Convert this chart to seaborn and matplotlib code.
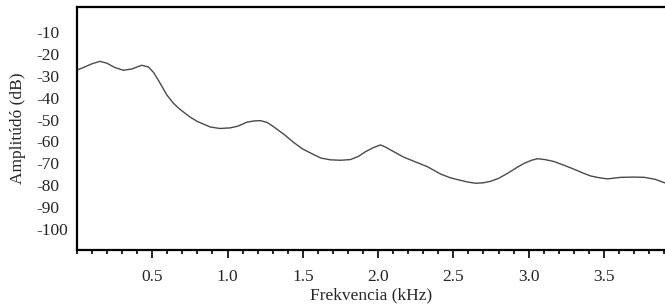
import numpy as np
import pandas as pd
import matplotlib
matplotlib.use('Agg')
import matplotlib.pyplot as plt
import seaborn as sn
from matplotlib.ticker import FixedLocator, MultipleLocator

# spectrum envelope
freq_khz = [0.0, 0.05, 0.10, 0.153, 0.20, 0.25, 0.308, 0.364, 0.43, 0.475, 0.51,
            0.552, 0.597, 0.641, 0.685, 0.752, 0.80, 0.885, 0.95, 1.018, 1.07,
            1.129, 1.18, 1.218, 1.262, 1.30, 1.37, 1.44, 1.50, 1.572, 1.62,
            1.683, 1.75, 1.816, 1.87, 1.916, 1.97, 2.016, 2.05, 2.083, 2.171,
            2.25, 2.327, 2.415, 2.48, 2.548, 2.60, 2.648, 2.70, 2.748, 2.80,
            2.859, 2.92, 2.97, 3.02, 3.059, 3.11, 3.169, 3.24, 3.302, 3.36,
            3.413, 3.47, 3.524, 3.613, 3.70, 3.768, 3.84, 3.912]
amp_db = [-27.4, -26.0, -24.5, -23.4, -24.3, -26.2, -27.5, -26.9, -25.2, -26.0, -28.6,
          -33.4, -38.8, -42.6, -45.4, -48.9, -50.9, -53.4, -54.1, -53.8, -53.0,
          -51.2, -50.6, -50.5, -51.3, -53.0, -56.5, -60.5, -63.5, -66.0, -67.6,
          -68.4, -68.6, -68.3, -66.8, -64.7, -62.8, -61.6, -62.6, -63.9, -67.2,
          -69.4, -71.5, -74.9, -76.6, -77.8, -78.6, -79.1, -78.9, -78.2, -76.9,
          -74.6, -72.0, -70.0, -68.6, -67.9, -68.3, -69.2, -71.0, -72.7, -74.4,
          -75.8, -76.6, -77.1, -76.4, -76.3, -76.4, -77.3, -79.1]

y_ticks = [-10, -20, -30, -40, -50, -60, -70, -80, -90, -100]
x_ticks = [0.5, 1.0, 1.5, 2.0, 2.5, 3.0, 3.5]

if __name__ == '__main__':
    data = pd.DataFrame({'f': freq_khz, 'a': amp_db})

    sn.set_style('white')
    plt.rcParams['font.family'] = ['Liberation Serif', 'DejaVu Serif']

    fig = plt.figure(figsize=(6.65, 3.06), dpi=100)
    ax = fig.add_axes([0.1158, 0.183, 0.8842, 0.794])
    sn.lineplot(data=data, x='f', y='a', ax=ax, color='#4a4a4a', linewidth=1.0)

    ax.set_xlim(0, 3.906)
    ax.set_ylim(-109.6, 1.4)
    ax.xaxis.set_major_locator(FixedLocator(x_ticks))
    ax.xaxis.set_minor_locator(MultipleLocator(0.1))
    ax.set_xticklabels([f'{t:.1f}' for t in x_ticks])
    ax.set_yticks(y_ticks)
    ax.set_yticklabels([str(t) for t in y_ticks], ha='left')

    for side in ['left', 'top', 'bottom']:
        ax.spines[side].set_visible(True)
        ax.spines[side].set_color('black')
        ax.spines[side].set_linewidth(1.6)
    ax.spines['right'].set_visible(False)

    ax.tick_params(axis='x', which='major', direction='out', length=6, width=1.2,
                   color='black', labelsize=12.5, pad=8, bottom=True)
    ax.tick_params(axis='x', which='minor', direction='out', length=3.2, width=1.2,
                   color='black', bottom=True)
    # left-aligned tick labels, as in the reference
    ax.tick_params(axis='y', which='both', length=0, labelsize=12.5, pad=29)

    ax.set_xlabel('Frekvencia (kHz)', fontsize=12.5, labelpad=1.5)
    ax.set_ylabel('Amplitúdó (dB)', fontsize=12.5, va='center')
    ax.yaxis.set_label_coords(-0.101, 0.5)

    plt.savefig('out.png', dpi=100)
